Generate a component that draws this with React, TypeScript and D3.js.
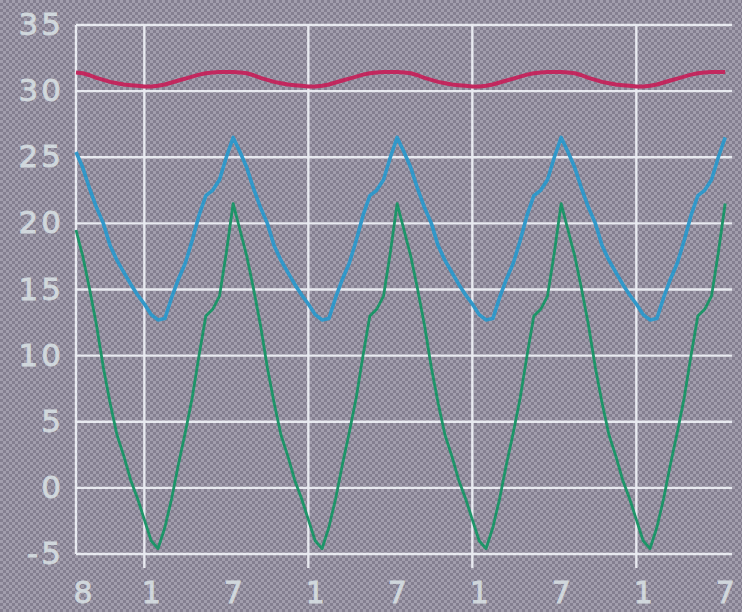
import React from "react";
import * as d3 from "d3";

const BLUE = [
  25.4, 24.2, 22.6, 21.2, 20.0, 18.3, 17.2, 16.3, 15.4, 14.6, 13.9, 13.1, 12.7, 12.8, 14.4, 15.8, 17.0, 18.7, 20.6, 22.1, 22.5, 23.3, 25.0, 26.5,
  25.4, 24.2, 22.6, 21.2, 20.0, 18.3, 17.2, 16.3, 15.4, 14.6, 13.9, 13.1, 12.7, 12.8, 14.4, 15.8, 17.0, 18.7, 20.6, 22.1, 22.5, 23.3, 25.0, 26.5,
  25.4, 24.2, 22.6, 21.2, 20.0, 18.3, 17.2, 16.3, 15.4, 14.6, 13.9, 13.1, 12.7, 12.8, 14.4, 15.8, 17.0, 18.7, 20.6, 22.1, 22.5, 23.3, 25.0, 26.5,
  25.4, 24.2, 22.6, 21.2, 20.0, 18.3, 17.2, 16.3, 15.4, 14.6, 13.9, 13.1, 12.7, 12.8, 14.4, 15.8, 17.0, 18.7, 20.6, 22.1, 22.5, 23.3, 25.0, 26.5,
];

const GREEN = [
  19.5, 17.5, 15.0, 12.3, 9.1, 6.4, 4.0, 2.4, 0.6, -0.8, -2.4, -4.0, -4.6, -3.0, -0.8, 1.8, 4.2, 6.8, 10.0, 13.0, 13.5, 14.5, 17.8, 21.5,
  19.5, 17.5, 15.0, 12.3, 9.1, 6.4, 4.0, 2.4, 0.6, -0.8, -2.4, -4.0, -4.6, -3.0, -0.8, 1.8, 4.2, 6.8, 10.0, 13.0, 13.5, 14.5, 17.8, 21.5,
  19.5, 17.5, 15.0, 12.3, 9.1, 6.4, 4.0, 2.4, 0.6, -0.8, -2.4, -4.0, -4.6, -3.0, -0.8, 1.8, 4.2, 6.8, 10.0, 13.0, 13.5, 14.5, 17.8, 21.5,
  19.5, 17.5, 15.0, 12.3, 9.1, 6.4, 4.0, 2.4, 0.6, -0.8, -2.4, -4.0, -4.6, -3.0, -0.8, 1.8, 4.2, 6.8, 10.0, 13.0, 13.5, 14.5, 17.8, 21.5,
];

const RED = [
  31.4, 31.35, 31.2, 31.0, 30.85, 30.7, 30.6, 30.5, 30.45, 30.4, 30.35, 30.35, 30.4, 30.5, 30.65, 30.8, 30.95, 31.1, 31.25, 31.35, 31.4, 31.45, 31.45, 31.45,
  31.4, 31.35, 31.2, 31.0, 30.85, 30.7, 30.6, 30.5, 30.45, 30.4, 30.35, 30.35, 30.4, 30.5, 30.65, 30.8, 30.95, 31.1, 31.25, 31.35, 31.4, 31.45, 31.45, 31.45,
  31.4, 31.35, 31.2, 31.0, 30.85, 30.7, 30.6, 30.5, 30.45, 30.4, 30.35, 30.35, 30.4, 30.5, 30.65, 30.8, 30.95, 31.1, 31.25, 31.35, 31.4, 31.45, 31.45, 31.45,
  31.4, 31.35, 31.2, 31.0, 30.85, 30.7, 30.6, 30.5, 30.45, 30.4, 30.35, 30.35, 30.4, 30.5, 30.65, 30.8, 30.95, 31.1, 31.25, 31.35, 31.4, 31.45, 31.45, 31.45,
];

// x ticks: months offset from August of the first year
const X_TICKS = [0, 5, 11, 17, 23, 29, 35, 41, 47];
const X_LABELS = ["8", "1", "7", "1", "7", "1", "7", "1", "7"];
const JAN_TICKS = [5, 17, 29, 41];
const Y_TICKS = [35, 30, 25, 20, 15, 10, 5, 0, -5];

const W = 742;
const H = 612;

export default function App() {
  const x = d3.scaleLinear().domain([0, 48]).range([76, 732]);
  const y = d3.scaleLinear().domain([-5, 35]).range([554, 25]);

  const line = d3
    .line<number>()
    .x((_, i) => x(i * 0.5))
    .y((d) => y(d))
    .curve(d3.curveLinear);

  const grid = "#e8eaf0";
  const label = "#d0d7dc";

  return (
    <>
      <style>{`body{margin:0;overflow:hidden}`}</style>
      <svg width={W} height={H} style={{ display: "block" }}>
        <defs>
          <pattern id="dither" width="6" height="6" patternUnits="userSpaceOnUse">
            <rect width="6" height="6" fill="#847f90" />
            <rect x="0" y="0" width="3" height="3" fill="#a29ead" />
            <rect x="3" y="3" width="3" height="3" fill="#a29ead" />
          </pattern>
        </defs>
        <rect width={W} height={H} fill="url(#dither)" />

        {/* horizontal gridlines */}
        {Y_TICKS.map((t) => (
          <line key={"h" + t} x1={x(0)} x2={x(48)} y1={y(t)} y2={y(t)} stroke={grid} strokeWidth={2.4} />
        ))}
        {/* left axis */}
        <line x1={x(0)} x2={x(0)} y1={y(35)} y2={y(-5)} stroke={grid} strokeWidth={2.4} />
        {/* January gridlines */}
        {JAN_TICKS.map((t) => (
          <line key={"v" + t} x1={x(t)} x2={x(t)} y1={y(35)} y2={y(-5) + 14} stroke={grid} strokeWidth={2.4} />
        ))}

        {/* y labels */}
        {Y_TICKS.map((t) => (
          <text
            key={"yl" + t}
            x={64}
            y={y(t) - 1}
            textAnchor="end"
            dominantBaseline="central"
            fontFamily="DejaVu Sans"
            fontSize={31}
            letterSpacing={3}
            stroke={label}
            strokeWidth={0.8}
            fill={label}
          >
            {t}
          </text>
        ))}
        {/* x labels */}
        {X_TICKS.map((t, i) => (
          <text
            key={"xl" + i}
            x={x(t) + 7}
            y={603}
            textAnchor="middle"
            fontFamily="DejaVu Sans"
            fontSize={30}
            stroke={label}
            strokeWidth={0.8}
            fill={label}
          >
            {X_LABELS[i]}
          </text>
        ))}

        <path d={line(RED) || ""} fill="none" stroke="#c2285e" strokeWidth={4} strokeLinejoin="round" />
        <path d={line(BLUE) || ""} fill="none" stroke="#3198c9" strokeWidth={3.6} strokeLinejoin="round" />
        <path d={line(GREEN) || ""} fill="none" stroke="#1d9568" strokeWidth={2.8} strokeLinejoin="round" />
      </svg>
    </>
  );
}
